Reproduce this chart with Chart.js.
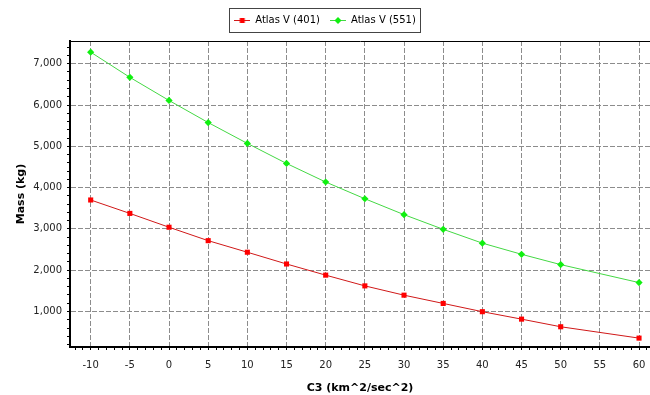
<!DOCTYPE html>
<html>
<head>
<meta charset="utf-8">
<script src="https://cdn.jsdelivr.net/npm/chart.js@4"></script>
<style>
  body { margin: 0; background: #fff; }
  #wrap { width: 650px; height: 395px; }
</style>
</head>
<body>
<div id="wrap"><canvas id="chartOne" width="650" height="395"></canvas></div>
<script>
// C3 values along the x-axis (no point at 55)
var c3 = [-10, -5, 0, 5, 10, 15, 20, 25, 30, 35, 40, 45, 50, 60];
// payload mass in kg
var atlas401 = [3700, 3375, 3040, 2715, 2435, 2150, 1880, 1620, 1395, 1195, 995, 815, 630, 355];
var atlas551 = [7280, 6670, 6110, 5575, 5070, 4585, 4135, 3730, 3345, 2990, 2655, 2385, 2135, 1700];
var seriesNames = ["Atlas V (401)", "Atlas V (551)"];

Chart.defaults.font.family = "'DejaVu Sans', sans-serif";
Chart.defaults.font.size = 10;

function isMult(v, step) {
  var r = v / step;
  return Math.abs(r - Math.round(r)) < 1e-6;
}

// ticks every `step` between the axis bounds (minor + major)
function stepTicks(step) {
  return function (s) {
    var t = [];
    for (var k = Math.ceil(s.min / step); k * step <= s.max; k++) t.push({ value: k * step });
    s.ticks = t;
  };
}

// small line + marker picture for the legend
function legendIcon(lineColor, markColor, diamond) {
  var c = document.createElement("canvas");
  c.width = 16; c.height = 8;
  var g = c.getContext("2d");
  g.strokeStyle = lineColor; g.lineWidth = 1;
  g.beginPath(); g.moveTo(0, 4.5); g.lineTo(16, 4.5); g.stroke();
  g.fillStyle = markColor;
  if (diamond) {
    g.beginPath(); g.moveTo(8, 1); g.lineTo(11.5, 4.5); g.lineTo(8, 8); g.lineTo(4.5, 4.5); g.closePath(); g.fill();
  } else {
    g.fillRect(5.5, 2, 5, 5);
  }
  return c;
}

// box round the legend items
var legendFrame = {
  id: "legendFrame",
  afterDraw: function (chart) {
    var ctx = chart.ctx;
    var hb = chart.legend.legendHitBoxes;
    if (!hb || !hb.length) return;
    var l = Infinity, r = -Infinity, t = Infinity, b = -Infinity;
    hb.forEach(function (h) {
      l = Math.min(l, h.left); r = Math.max(r, h.left + h.width);
      t = Math.min(t, h.top); b = Math.max(b, h.top + h.height);
    });
    ctx.save();
    ctx.strokeStyle = "#444";
    ctx.lineWidth = 1;
    ctx.strokeRect(Math.round(l - 5) + 0.5, Math.round(t - 7) + 0.5, Math.round(r - l + 9), Math.round(b - t + 14));
    ctx.restore();
  }
};

var ctx = document.getElementById("chartOne");
var chartOne = new Chart(ctx, {
  type: "line",
  data: {
    datasets: [
      {
        label: seriesNames[0],
        data: c3.map(function (x, i) { return { x: x, y: atlas401[i] }; }),
        borderColor: "#d01818",
        backgroundColor: "#ff0000",
        borderWidth: 1,
        pointStyle: "rect",
        pointRadius: 3.6,
        pointBorderWidth: 0,
        pointBackgroundColor: "#ff0000",
        tension: 0,
        fill: false
      },
      {
        label: seriesNames[1],
        data: c3.map(function (x, i) { return { x: x, y: atlas551[i] }; }),
        borderColor: "#44d844",
        backgroundColor: "#10f010",
        borderWidth: 1,
        pointStyle: "rectRot",
        pointRadius: 3.6,
        pointBorderWidth: 0,
        pointBackgroundColor: "#10f010",
        tension: 0,
        fill: false
      }
    ]
  },
  options: {
    responsive: false,
    animation: false,
    layout: { autoPadding: false, padding: { top: 5, left: 0, right: 0, bottom: 0 } },
    plugins: {
      tooltip: { enabled: false },
      legend: {
        position: "top",
        labels: {
          color: "#000",
          padding: 10,
          usePointStyle: true,
          pointStyleWidth: 16,
          generateLabels: function (chart) {
            return chart.data.datasets.map(function (d, i) {
              return {
                text: d.label,
                fontColor: "#000",
                pointStyle: legendIcon(d.borderColor, d.pointBackgroundColor, i === 1),
                datasetIndex: i,
                hidden: false,
                lineWidth: 0
              };
            });
          }
        }
      }
    },
    scales: {
      x: {
        type: "linear",
        min: -12.64,
        max: 61.4,
        afterFit: function (s) { s.height = 48; s.paddingLeft = 0; s.paddingRight = 0; },
        afterBuildTicks: stepTicks(1),
        title: {
          display: true,
          text: "C3 (km^2/sec^2)",
          color: "#000",
          font: { weight: "bold", size: 11 },
          padding: { top: 0, bottom: 0 }
        },
        ticks: {
          autoSkip: false,
          maxRotation: 0,
          color: "#222",
          padding: 9,
          callback: function (v) { return isMult(v, 5) ? String(Math.round(v)) : ""; }
        },
        grid: {
          color: function (c) { return c.tick && isMult(c.tick.value, 5) ? "#8c8c8c" : "rgba(0,0,0,0)"; },
          tickColor: "#000",
          lineWidth: 1,
          tickLength: 3
        },
        border: { display: true, color: "#000", width: 2, dash: [5, 2] }
      },
      // empty top axis: gives the gap under the legend and the top frame line
      xTop: {
        type: "linear",
        position: "top",
        afterFit: function (s) { s.height = 6; s.paddingLeft = 0; s.paddingRight = 0; },
        ticks: { display: false },
        grid: { display: false },
        border: { display: true, color: "#000", width: 1 }
      },
      y: {
        type: "linear",
        min: 140,
        max: 7550,
        afterFit: function (s) { s.width = 70; },
        afterBuildTicks: stepTicks(200),
        title: {
          display: true,
          text: "Mass (kg)",
          color: "#000",
          font: { weight: "bold", size: 11 },
          padding: { top: 15, bottom: 0 }
        },
        ticks: {
          autoSkip: false,
          color: "#222",
          padding: 5,
          callback: function (v) { return isMult(v, 1000) ? v.toLocaleString("en-US") : ""; }
        },
        grid: {
          color: function (c) { return c.tick && isMult(c.tick.value, 1000) ? "#8c8c8c" : "rgba(0,0,0,0)"; },
          tickColor: "#000",
          lineWidth: 1,
          tickLength: 3
        },
        border: { display: true, color: "#000", width: 2, dash: [5, 2] }
      }
    }
  },
  plugins: [legendFrame]
});
</script>
</body>
</html>
